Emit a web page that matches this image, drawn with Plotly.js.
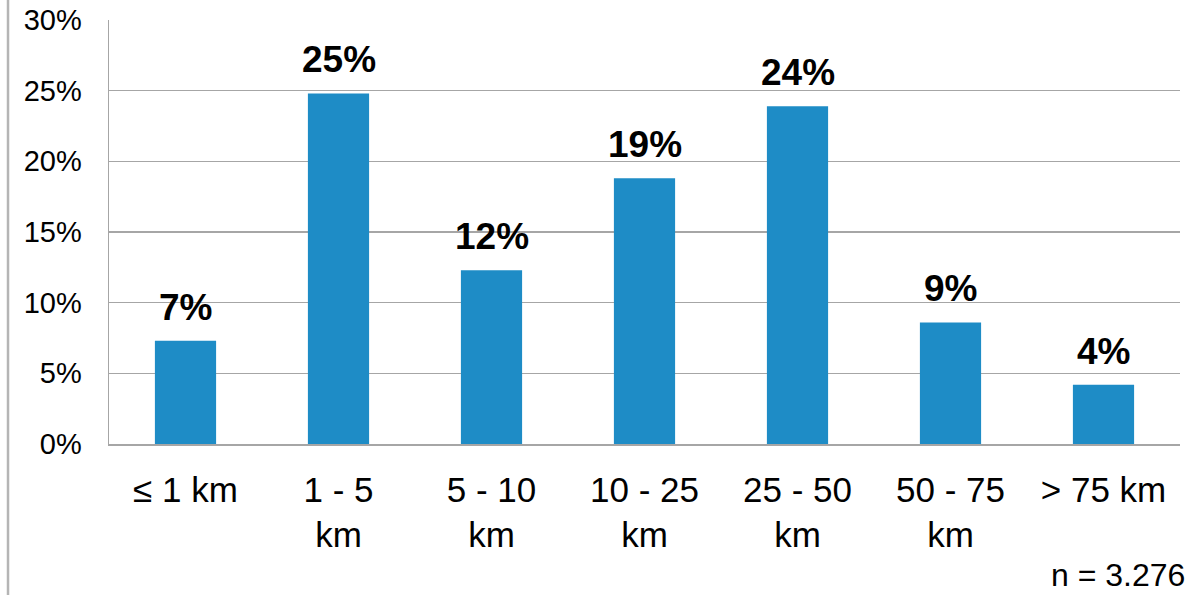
<!DOCTYPE html>
<html>
<head>
<meta charset="utf-8">
<script src="https://cdn.plot.ly/plotly-3.0.1.min.js"></script>
<style>html,body{margin:0;padding:0;background:#fff;}#chart{width:1193px;height:595px;}</style>
</head>
<body>
<div id="chart"></div>
<script>
const categories = ["≤ 1 km", "1 - 5<br>km", "5 - 10<br>km", "10 - 25<br>km", "25 - 50<br>km", "50 - 75<br>km", "> 75 km"];
const shares = [7.3, 24.8, 12.3, 18.8, 23.9, 8.6, 4.2];
const barLabels = ["7%", "25%", "12%", "19%", "24%", "9%", "4%"];
const yTicks = [0, 5, 10, 15, 20, 25, 30];
const note = "n = 3.276";

const font = "Liberation Sans, Arial, sans-serif";

const trace = {
  type: "bar",
  x: categories,
  y: shares,
  marker: {color: "#1e8cc6"},
  width: 0.4,
  hoverinfo: "skip"
};

const annotations = categories.map((c, i) => ({
  x: c, y: shares[i], xref: "x", yref: "y",
  text: "<b>" + barLabels[i] + "</b>",
  showarrow: false, yanchor: "bottom", yshift: 11,
  font: {family: font, size: 37, color: "#000"}
}));
annotations.push({
  xref: "paper", yref: "paper", x: 1.007, y: -0.262,
  xanchor: "right", yanchor: "top", text: note, showarrow: false,
  font: {family: font, size: 32, color: "#000"}
});

const layout = {
  width: 1193, height: 595,
  margin: {l: 109, r: 13, t: 20, b: 151},
  paper_bgcolor: "#fff", plot_bgcolor: "#fff",
  showlegend: false,
  bargap: 0.6,
  xaxis: {
    showgrid: false, showline: true, linecolor: "#a6a6a6", linewidth: 1.5,
    ticks: "", tickfont: {family: font, size: 35, color: "#000"},
    ticklabelstandoff: 14, fixedrange: true
  },
  yaxis: {
    range: [0, 30], tickvals: yTicks, ticktext: yTicks.map(v => v + "%"),
    showgrid: true, gridcolor: "#a6a6a6", gridwidth: 1.5,
    showline: true, linecolor: "#a6a6a6", linewidth: 1.5,
    zeroline: false, ticks: "",
    tickfont: {family: font, size: 29, color: "#000"},
    ticklabelstandoff: 20, fixedrange: true
  },
  annotations: annotations,
  shapes: [{
    type: "line", xref: "paper", yref: "paper",
    x0: -0.0943, x1: -0.0943, y0: -0.357, y1: 1.047,
    line: {color: "#b5b5b5", width: 2.5}
  }]
};

Plotly.newPlot("chart", [trace], layout, {displayModeBar: false, staticPlot: true});
</script>
</body>
</html>
